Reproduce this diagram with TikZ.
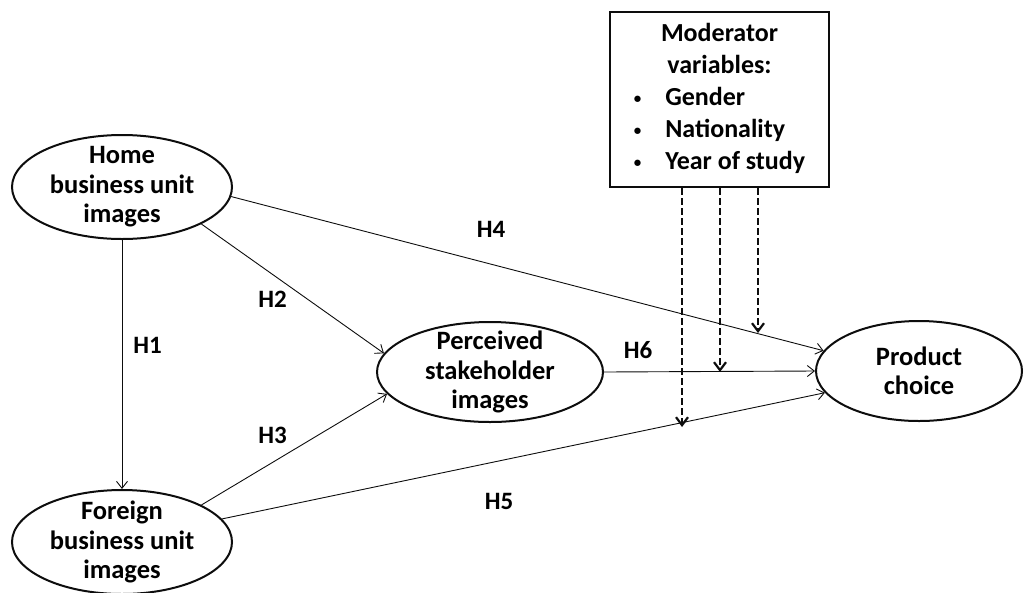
\documentclass[tikz,border=0pt]{standalone}
\usepackage{fontspec}
\setmainfont{Carlito}
\usepackage{tikz}
\usetikzlibrary{shapes.geometric,arrows.meta,positioning}
\definecolor{pathDark}{gray}{0.05}
\newcommand{\modbullet}{\raisebox{2.5pt}{\fontsize{15}{15}\selectfont\textbullet}}

\begin{document}
\begin{tikzpicture}[x=1pt, y=-1pt,
      construct/.style={ellipse, draw=pathDark, line width=2pt, fill=white,
                  inner xsep=0pt, inner ysep=-12pt, minimum width=220pt,
                  minimum height=104pt, align=center,
                  font=\fontsize{26.5}{29.5}\selectfont\bfseries},
      modbox/.style={draw=pathDark, line width=2.2pt, fill=white,
                  minimum width=219pt, minimum height=175pt, inner sep=0pt,
                  font=\fontsize{26}{32}\selectfont\bfseries},
      hyp/.style={font=\fontsize{25}{26}\selectfont\bfseries, inner sep=0pt},
      link/.style={-{Straight Barb[length=7pt, width=11pt]}, line width=0.9pt, draw=pathDark},
      moderate/.style={-{Straight Barb[length=8pt, width=12pt]}, line width=2.2pt,
                  dash pattern=on 7pt off 3pt, draw=pathDark}]

    \useasboundingbox (0,0) rectangle (1024,592);

    \node[construct] (home) at (122,187) {Home\\business unit\\images};
    \node[construct] (foreign) at (122,542) {Foreign\\business unit\\images};
    \node[construct, minimum width=226pt, minimum height=100pt] (perc) at (490,372)
      {Perceived\\stakeholder\\images};
    \node[construct, minimum width=206pt, minimum height=100pt] (prod) at (919,371)
      {Product\\choice};

    \node[modbox] (mod) at (719.5,99.5) {%
      \begin{tabular}{@{}c@{\hspace{24pt}}l@{}}
        \multicolumn{2}{c}{Moderator}\\
        \multicolumn{2}{c}{variables:}\\
        \modbullet & Gender\\
        \modbullet & Nationality\\
        \modbullet & Year of study
      \end{tabular}};

    \coordinate (m1) at (682,427);
    \coordinate (m2) at (720,372);
    \coordinate (m3) at (758,333);

    \draw[link] (home.south) -- (foreign.north);
    \draw[link] (home.-25) -- (perc.170);
    \draw[link] (foreign.25) -- (perc.192);
    \draw[link] (home.-5) -- (prod.168);
    \draw[link] (foreign.13) -- (prod.193);
    \draw[link] (perc.east) -- (prod.west);

    \draw[moderate] (mod.south -| m1) -- (m1);
    \draw[moderate] (mod.south -| m2) -- (m2);
    \draw[moderate] (mod.south -| m3) -- (m3);

    \node[hyp] (h1) at (147.5,345) {H1};
    \node[hyp] (h2) at (272.5,299.5) {H2};
    \node[hyp] (h3) at (272.5,435) {H3};
    \node[hyp] (h4) at (491,229) {H4};
    \node[hyp] (h5) at (499,501) {H5};
    \node[hyp] (h6) at (638,350) {H6};
  \end{tikzpicture}
\end{document}
